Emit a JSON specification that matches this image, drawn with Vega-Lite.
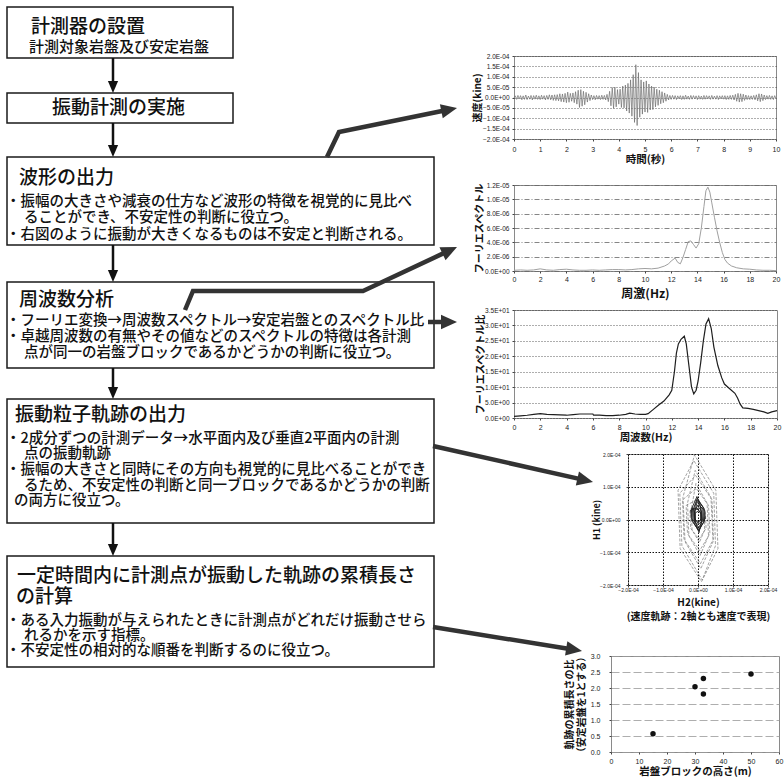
{
"$schema":"https://vega.github.io/schema/vega-lite/v6.json",
"background":"white",
"padding":0,
"bounds":"flush",
"spacing":0,
"config":{
"view":{"stroke":"#8a8a8a","strokeWidth":1},
"axis":{"domain":false,"labelFont":"Liberation Sans","labelColor":"#222","titleFont":"Noto Sans CJK JP","titleColor":"#111","titleFontWeight":"bold","tickColor":"#444","tickSize":2,"labelOverlap":false,"labelFlush":false,"gridWidth":0.8}
},
"datasets":{
"boxes":[{"x":7,"x2":233,"y":7,"y2":58},{"x":7,"x2":233,"y":93,"y2":123},{"x":7,"x2":434,"y":157,"y2":245},{"x":7,"x2":434,"y":282,"y2":368},{"x":7,"x2":434,"y":399,"y2":523},{"x":7,"x2":434,"y":556,"y2":667}],
"titles":[{"x":31,"y":27,"t":"計測器の設置"},{"x":52,"y":108,"t":"振動計測の実施"},{"x":19,"y":178,"t":"波形の出力"},{"x":19,"y":300,"t":"周波数分析"},{"x":15,"y":415,"t":"振動粒子軌跡の出力"},{"x":17,"y":576,"t":"一定時間内に計測点が振動した軌跡の累積長さ"},{"x":16,"y":597,"t":"の計算"}],
"subs":[{"x":29,"y":47,"t":"計測対象岩盤及び安定岩盤"}],
"body":[
{"x":6,"y":201.5,"t":"・振幅の大きさや減衰の仕方など波形の特徴を視覚的に見比べ"},
{"x":24,"y":218,"t":"ることができ、不安定性の判断に役立つ。"},
{"x":6,"y":235,"t":"・右図のように振動が大きくなるものは不安定と判断される。"},
{"x":6,"y":321,"t":"・フーリエ変換→周波数スペクトル→安定岩盤とのスペクトル比"},
{"x":6,"y":336.5,"t":"・卓越周波数の有無やその値などのスペクトルの特徴は各計測"},
{"x":24,"y":353,"t":"点が同一の岩盤ブロックであるかどうかの判断に役立つ。"},
{"x":6,"y":438.5,"t":"・2成分ずつの計測データ→水平面内及び垂直2平面内の計測"},
{"x":24,"y":454,"t":"点の振動軌跡"},
{"x":6,"y":470,"t":"・振幅の大きさと同時にその方向も視覚的に見比べることができ"},
{"x":24,"y":486,"t":"るため、不安定性の判断と同一ブロックであるかどうかの判断"},
{"x":14,"y":501,"t":"の両方に役立つ。"},
{"x":6,"y":621,"t":"・ある入力振動が与えられたときに計測点がどれだけ振動させら"},
{"x":24,"y":636,"t":"れるかを示す指標。"},
{"x":6,"y":651,"t":"・不安定性の相対的な順番を判断するのに役立つ。"}],
"shafts":[{"x":113,"y":58,"y2":85},{"x":113,"y":123,"y2":149},{"x":113,"y":245,"y2":274},{"x":113,"y":368,"y2":391},{"x":113,"y":523,"y2":548}],
"vtips":[{"x":113,"y":93},{"x":113,"y":157},{"x":113,"y":282},{"x":113,"y":399},{"x":113,"y":556}],
"links":[
{"id":1,"i":0,"x":327,"y":157},{"id":1,"i":1,"x":339,"y":132},{"id":1,"i":2,"x":443.3,"y":110.8},
{"id":2,"i":0,"x":185,"y":310},{"id":2,"i":1,"x":193,"y":291},{"id":2,"i":2,"x":363,"y":291},{"id":2,"i":3,"x":444.3,"y":252.9},
{"id":3,"i":0,"x":428,"y":322},{"id":3,"i":1,"x":443,"y":322},
{"id":4,"i":0,"x":433,"y":446},{"id":4,"i":1,"x":579.3,"y":478.9},
{"id":5,"i":0,"x":433,"y":627},{"id":5,"i":1,"x":568.2,"y":648.8}],
"tips":[{"x":457,"y":108,"dir":-11.6},{"x":457,"y":247,"dir":-25.1},{"x":457,"y":322,"dir":0},{"x":593,"y":482,"dir":12.7},{"x":582,"y":651,"dir":9.15}],
"wave":[
{"t":0,"v":0},{"t":0.05,"v":0.8e-5},{"t":0.1,"v":-0.9e-5},{"t":0.15,"v":1.0e-5},{"t":0.2,"v":-0.7e-5},{"t":0.25,"v":0.9e-5},{"t":0.3,"v":-1.1e-5},{"t":0.35,"v":0.8e-5},{"t":0.4,"v":-0.9e-5},{"t":0.45,"v":1.2e-5},
{"t":0.5,"v":-1.0e-5},{"t":0.55,"v":0.7e-5},{"t":0.6,"v":-0.8e-5},{"t":0.65,"v":1.0e-5},{"t":0.7,"v":-1.2e-5},{"t":0.75,"v":0.9e-5},{"t":0.8,"v":-0.8e-5},{"t":0.85,"v":1.1e-5},{"t":0.9,"v":-0.9e-5},{"t":0.95,"v":0.8e-5},
{"t":1.0,"v":-1.0e-5},{"t":1.05,"v":1.1e-5},{"t":1.1,"v":-0.8e-5},{"t":1.15,"v":0.9e-5},{"t":1.2,"v":-1.2e-5},{"t":1.25,"v":1.0e-5},{"t":1.3,"v":-0.9e-5},{"t":1.35,"v":1.3e-5},{"t":1.4,"v":-1.1e-5},{"t":1.45,"v":1.2e-5},
{"t":1.5,"v":-1.4e-5},{"t":1.55,"v":1.3e-5},{"t":1.6,"v":-1.5e-5},{"t":1.65,"v":1.4e-5},{"t":1.7,"v":-1.6e-5},{"t":1.75,"v":1.8e-5},{"t":1.8,"v":-2.0e-5},{"t":1.85,"v":1.7e-5},{"t":1.9,"v":-2.2e-5},{"t":1.95,"v":2.0e-5},
{"t":2.0,"v":-2.5e-5},{"t":2.05,"v":2.6e-5},{"t":2.1,"v":-2.3e-5},{"t":2.15,"v":2.0e-5},{"t":2.2,"v":-1.8e-5},{"t":2.25,"v":2.2e-5},{"t":2.3,"v":-2.5e-5},{"t":2.35,"v":2.8e-5},{"t":2.4,"v":-3.2e-5},{"t":2.45,"v":3.5e-5},
{"t":2.5,"v":-4.8e-5},{"t":2.55,"v":3.8e-5},{"t":2.6,"v":-4.2e-5},{"t":2.65,"v":3.0e-5},{"t":2.7,"v":-3.5e-5},{"t":2.75,"v":2.5e-5},{"t":2.8,"v":-2.2e-5},{"t":2.85,"v":1.8e-5},{"t":2.9,"v":-1.5e-5},{"t":2.95,"v":1.2e-5},
{"t":3.0,"v":-1.0e-5},{"t":3.05,"v":0.9e-5},{"t":3.1,"v":-1.1e-5},{"t":3.15,"v":1.0e-5},{"t":3.2,"v":-0.8e-5},{"t":3.25,"v":0.9e-5},{"t":3.3,"v":-1.0e-5},{"t":3.35,"v":1.1e-5},{"t":3.4,"v":-0.9e-5},{"t":3.45,"v":1.0e-5},
{"t":3.5,"v":-1.2e-5},{"t":3.55,"v":1.5e-5},{"t":3.6,"v":-2.0e-5},{"t":3.65,"v":3.0e-5},{"t":3.7,"v":-4.0e-5},{"t":3.75,"v":4.8e-5},{"t":3.8,"v":-5.2e-5},{"t":3.85,"v":5.0e-5},{"t":3.9,"v":-4.5e-5},{"t":3.95,"v":3.8e-5},
{"t":4.0,"v":-3.2e-5},{"t":4.05,"v":4.0e-5},{"t":4.1,"v":-4.8e-5},{"t":4.15,"v":5.5e-5},{"t":4.2,"v":-5.0e-5},{"t":4.25,"v":6.0e-5},{"t":4.3,"v":-6.5e-5},{"t":4.35,"v":6.8e-5},{"t":4.4,"v":-7.5e-5},{"t":4.45,"v":8.5e-5},
{"t":4.5,"v":-9.0e-5},{"t":4.55,"v":11.0e-5},{"t":4.6,"v":-12.0e-5},{"t":4.65,"v":15.8e-5},{"t":4.7,"v":-13.5e-5},{"t":4.75,"v":12.0e-5},{"t":4.8,"v":-9.5e-5},{"t":4.85,"v":8.5e-5},{"t":4.9,"v":-8.0e-5},{"t":4.95,"v":7.5e-5},
{"t":5.0,"v":-7.0e-5},{"t":5.05,"v":8.0e-5},{"t":5.1,"v":-7.2e-5},{"t":5.15,"v":6.5e-5},{"t":5.2,"v":-6.0e-5},{"t":5.25,"v":5.5e-5},{"t":5.3,"v":-5.8e-5},{"t":5.35,"v":5.0e-5},{"t":5.4,"v":-4.5e-5},{"t":5.45,"v":4.0e-5},
{"t":5.5,"v":-3.8e-5},{"t":5.55,"v":3.5e-5},{"t":5.6,"v":-3.0e-5},{"t":5.65,"v":2.8e-5},{"t":5.7,"v":-2.5e-5},{"t":5.75,"v":2.2e-5},{"t":5.8,"v":-1.8e-5},{"t":5.85,"v":1.5e-5},{"t":5.9,"v":-1.2e-5},{"t":5.95,"v":1.0e-5},
{"t":6.0,"v":-0.9e-5},{"t":6.05,"v":1.0e-5},{"t":6.1,"v":-0.8e-5},{"t":6.15,"v":0.9e-5},{"t":6.2,"v":-1.0e-5},{"t":6.25,"v":0.8e-5},{"t":6.3,"v":-0.7e-5},{"t":6.35,"v":0.9e-5},{"t":6.4,"v":-1.0e-5},{"t":6.45,"v":0.8e-5},
{"t":6.5,"v":-0.9e-5},{"t":6.55,"v":1.1e-5},{"t":6.6,"v":-0.8e-5},{"t":6.65,"v":0.7e-5},{"t":6.7,"v":-0.9e-5},{"t":6.75,"v":1.0e-5},{"t":6.8,"v":-0.8e-5},{"t":6.85,"v":0.9e-5},{"t":6.9,"v":-0.7e-5},{"t":6.95,"v":0.8e-5},
{"t":7.0,"v":-1.0e-5},{"t":7.05,"v":0.9e-5},{"t":7.1,"v":-0.8e-5},{"t":7.15,"v":0.7e-5},{"t":7.2,"v":-0.9e-5},{"t":7.25,"v":1.0e-5},{"t":7.3,"v":-0.8e-5},{"t":7.35,"v":0.9e-5},{"t":7.4,"v":-0.7e-5},{"t":7.45,"v":0.8e-5},
{"t":7.5,"v":-0.9e-5},{"t":7.55,"v":1.0e-5},{"t":7.6,"v":-0.8e-5},{"t":7.65,"v":0.7e-5},{"t":7.7,"v":-0.8e-5},{"t":7.75,"v":0.9e-5},{"t":7.8,"v":-1.0e-5},{"t":7.85,"v":0.8e-5},{"t":7.9,"v":-0.7e-5},{"t":7.95,"v":0.9e-5},
{"t":8.0,"v":-0.8e-5},{"t":8.05,"v":0.9e-5},{"t":8.1,"v":-1.0e-5},{"t":8.15,"v":0.8e-5},{"t":8.2,"v":-0.9e-5},{"t":8.25,"v":1.0e-5},{"t":8.3,"v":-0.9e-5},{"t":8.35,"v":1.1e-5},{"t":8.4,"v":-1.2e-5},{"t":8.45,"v":1.5e-5},
{"t":8.5,"v":-1.8e-5},{"t":8.55,"v":2.0e-5},{"t":8.6,"v":-2.2e-5},{"t":8.65,"v":1.8e-5},{"t":8.7,"v":-2.0e-5},{"t":8.75,"v":1.6e-5},{"t":8.8,"v":-1.4e-5},{"t":8.85,"v":1.2e-5},{"t":8.9,"v":-1.0e-5},{"t":8.95,"v":0.9e-5},
{"t":9.0,"v":-1.0e-5},{"t":9.05,"v":0.8e-5},{"t":9.1,"v":-0.9e-5},{"t":9.15,"v":1.0e-5},{"t":9.2,"v":-1.1e-5},{"t":9.25,"v":1.3e-5},{"t":9.3,"v":-1.6e-5},{"t":9.35,"v":1.8e-5},{"t":9.4,"v":-2.0e-5},{"t":9.45,"v":1.7e-5},
{"t":9.5,"v":-1.5e-5},{"t":9.55,"v":1.2e-5},{"t":9.6,"v":-1.0e-5},{"t":9.65,"v":0.9e-5},{"t":9.7,"v":-0.8e-5},{"t":9.75,"v":1.0e-5},{"t":9.8,"v":-0.9e-5},{"t":9.85,"v":0.8e-5},{"t":9.9,"v":-1.0e-5},{"t":9.95,"v":0.9e-5},
{"t":10.0,"v":-0.6e-5}],
"spec":[
{"f":0,"a":0.1e-6},{"f":0.5,"a":0.15e-6},{"f":1,"a":0.1e-6},{"f":1.5,"a":0.15e-6},{"f":2,"a":0.3e-6},{"f":2.5,"a":0.15e-6},{"f":3,"a":0.1e-6},{"f":3.5,"a":0.2e-6},{"f":4,"a":0.25e-6},{"f":4.5,"a":0.15e-6},
{"f":5,"a":0.1e-6},{"f":5.5,"a":0.1e-6},{"f":6,"a":0.15e-6},{"f":6.5,"a":0.1e-6},{"f":7,"a":0.15e-6},{"f":7.5,"a":0.2e-6},{"f":8,"a":0.2e-6},{"f":8.5,"a":0.15e-6},{"f":9,"a":0.2e-6},{"f":9.5,"a":0.3e-6},
{"f":10,"a":0.35e-6},{"f":10.5,"a":0.3e-6},{"f":11,"a":0.4e-6},{"f":11.5,"a":0.7e-6},{"f":11.8,"a":1.0e-6},{"f":12.0,"a":1.4e-6},{"f":12.3,"a":1.8e-6},{"f":12.5,"a":1.2e-6},{"f":12.7,"a":1.0e-6},{"f":12.9,"a":1.9e-6},
{"f":13.1,"a":3.0e-6},{"f":13.3,"a":4.1e-6},{"f":13.5,"a":4.2e-6},{"f":13.7,"a":3.7e-6},{"f":13.9,"a":3.2e-6},{"f":14.1,"a":3.8e-6},{"f":14.3,"a":6.0e-6},{"f":14.5,"a":9.0e-6},{"f":14.65,"a":11.2e-6},{"f":14.8,"a":11.7e-6},
{"f":14.95,"a":11.0e-6},{"f":15.1,"a":9.5e-6},{"f":15.3,"a":7.5e-6},{"f":15.5,"a":5.6e-6},{"f":15.7,"a":4.0e-6},{"f":15.9,"a":2.6e-6},{"f":16.1,"a":1.6e-6},{"f":16.3,"a":1.1e-6},{"f":16.6,"a":0.7e-6},{"f":17.0,"a":0.45e-6},
{"f":17.5,"a":0.3e-6},{"f":18,"a":0.25e-6},{"f":18.5,"a":0.15e-6},{"f":19,"a":0.1e-6},{"f":19.5,"a":0.1e-6},{"f":20,"a":0.05e-6}],
"ratio":[
{"f":0,"r":0.5},{"f":0.5,"r":0.7},{"f":1,"r":0.9},{"f":1.5,"r":1.2},{"f":2,"r":1.4},{"f":2.5,"r":1.2},{"f":3,"r":1.1},{"f":3.5,"r":1.0},{"f":4,"r":0.9},{"f":4.5,"r":1.1},
{"f":5,"r":1.3},{"f":5.5,"r":1.3},{"f":6,"r":1.3},{"f":6.05,"r":0.9},{"f":6.5,"r":0.9},{"f":7,"r":0.8},{"f":7.5,"r":0.8},{"f":8,"r":0.9},{"f":8.5,"r":1.2},{"f":8.8,"r":1.6},
{"f":9.2,"r":1.3},{"f":9.6,"r":1.2},{"f":10,"r":1.2},{"f":10.2,"r":1.4},{"f":10.6,"r":2.8},{"f":11,"r":4.2},{"f":11.4,"r":5.5},{"f":11.8,"r":7.5},{"f":12.0,"r":9},{"f":12.2,"r":15},
{"f":12.35,"r":21},{"f":12.5,"r":24},{"f":12.7,"r":25.5},{"f":12.95,"r":26.5},{"f":13.1,"r":24},{"f":13.3,"r":17},{"f":13.5,"r":10},{"f":13.67,"r":7.8},{"f":13.85,"r":9},{"f":14.0,"r":12},
{"f":14.2,"r":18},{"f":14.4,"r":25},{"f":14.6,"r":30.5},{"f":14.8,"r":32.2},{"f":15.0,"r":29},{"f":15.2,"r":23},{"f":15.5,"r":17},{"f":15.8,"r":13},{"f":16.0,"r":11},{"f":16.4,"r":9.5},
{"f":16.8,"r":8},{"f":17.0,"r":6.5},{"f":17.2,"r":4.5},{"f":17.4,"r":3.3},{"f":17.8,"r":3.1},{"f":18.2,"r":2.8},{"f":18.6,"r":2.4},{"f":19.0,"r":2.0},{"f":19.3,"r":1.5},{"f":19.6,"r":2.0},{"f":20,"r":2.4}],
"orbitOuter":[
{"i":0,"h2":-0.04e-4,"h1":0.7e-4},{"i":1,"h2":0.17e-4,"h1":0.32e-4},{"i":2,"h2":0.19e-4,"h1":-0.32e-4},{"i":3,"h2":0.04e-4,"h1":-0.7e-4},{"i":4,"h2":-0.17e-4,"h1":-0.32e-4},{"i":5,"h2":-0.19e-4,"h1":0.32e-4},
{"i":6,"h2":-0.06e-4,"h1":1.1e-4},{"i":7,"h2":0.26e-4,"h1":0.5e-4},{"i":8,"h2":0.30e-4,"h1":-0.5e-4},{"i":9,"h2":0.06e-4,"h1":-1.1e-4},{"i":10,"h2":-0.26e-4,"h1":-0.5e-4},{"i":11,"h2":-0.30e-4,"h1":0.5e-4},
{"i":12,"h2":-0.08e-4,"h1":1.5e-4},{"i":13,"h2":0.37e-4,"h1":0.68e-4},{"i":14,"h2":0.43e-4,"h1":-0.68e-4},{"i":15,"h2":0.08e-4,"h1":-1.5e-4},{"i":16,"h2":-0.37e-4,"h1":-0.68e-4},{"i":17,"h2":-0.43e-4,"h1":0.68e-4},
{"i":18,"h2":-0.10e-4,"h1":1.97e-4},{"i":19,"h2":0.51e-4,"h1":0.89e-4},{"i":20,"h2":0.57e-4,"h1":-0.89e-4},{"i":21,"h2":0.10e-4,"h1":-1.9e-4},{"i":22,"h2":-0.51e-4,"h1":-0.89e-4},{"i":23,"h2":-0.57e-4,"h1":0.89e-4},
{"i":24,"h2":-0.12e-4,"h1":1.8e-4},{"i":25,"h2":0.45e-4,"h1":0.8e-4},{"i":26,"h2":0.50e-4,"h1":-0.8e-4},{"i":27,"h2":0.12e-4,"h1":-1.85e-4},{"i":28,"h2":-0.46e-4,"h1":-0.8e-4},{"i":29,"h2":-0.52e-4,"h1":0.8e-4},
{"i":30,"h2":-0.07e-4,"h1":1.35e-4},{"i":31,"h2":0.40e-4,"h1":0.6e-4},{"i":32,"h2":0.44e-4,"h1":-0.6e-4},{"i":33,"h2":0.07e-4,"h1":-1.35e-4},{"i":34,"h2":-0.40e-4,"h1":-0.6e-4},{"i":35,"h2":-0.44e-4,"h1":0.6e-4},
{"i":36,"h2":-0.05e-4,"h1":0.95e-4},{"i":37,"h2":0.30e-4,"h1":0.43e-4},{"i":38,"h2":0.34e-4,"h1":-0.43e-4},{"i":39,"h2":0.05e-4,"h1":-0.95e-4},{"i":40,"h2":-0.30e-4,"h1":-0.43e-4},{"i":41,"h2":-0.34e-4,"h1":0.43e-4},
{"i":42,"h2":-0.03e-4,"h1":0.6e-4},{"i":43,"h2":0.21e-4,"h1":0.27e-4},{"i":44,"h2":0.23e-4,"h1":-0.27e-4},{"i":45,"h2":0.03e-4,"h1":-0.6e-4},{"i":46,"h2":-0.21e-4,"h1":-0.27e-4},{"i":47,"h2":-0.23e-4,"h1":0.27e-4}],
"orbitInner":[
{"i":0,"h2":0.0,"h1":0.4e-4},{"i":1,"h2":0.1e-4,"h1":0.26e-4},{"i":2,"h2":0.1e-4,"h1":0.04e-4},{"i":3,"h2":0.0,"h1":-0.1e-4},{"i":4,"h2":-0.1e-4,"h1":0.04e-4},{"i":5,"h2":-0.1e-4,"h1":0.26e-4},
{"i":6,"h2":0.0,"h1":0.45e-4},{"i":7,"h2":0.19e-4,"h1":0.29e-4},{"i":8,"h2":0.21e-4,"h1":0.02e-4},{"i":9,"h2":0.0,"h1":-0.15e-4},{"i":10,"h2":-0.19e-4,"h1":0.02e-4},{"i":11,"h2":-0.21e-4,"h1":0.29e-4},
{"i":12,"h2":-0.02e-4,"h1":0.35e-4},{"i":13,"h2":0.09e-4,"h1":0.16e-4},{"i":14,"h2":0.11e-4,"h1":-0.16e-4},{"i":15,"h2":0.02e-4,"h1":-0.35e-4},{"i":16,"h2":-0.09e-4,"h1":-0.16e-4},{"i":17,"h2":-0.11e-4,"h1":0.16e-4},
{"i":18,"h2":-0.02e-4,"h1":0.55e-4},{"i":19,"h2":0.11e-4,"h1":0.33e-4},{"i":20,"h2":0.13e-4,"h1":-0.03e-4},{"i":21,"h2":0.02e-4,"h1":-0.25e-4},{"i":22,"h2":-0.11e-4,"h1":-0.03e-4},{"i":23,"h2":-0.13e-4,"h1":0.33e-4},
{"i":24,"h2":-0.02e-4,"h1":0.65e-4},{"i":25,"h2":0.14e-4,"h1":0.38e-4},{"i":26,"h2":0.16e-4,"h1":-0.08e-4},{"i":27,"h2":0.02e-4,"h1":-0.35e-4},{"i":28,"h2":-0.14e-4,"h1":-0.08e-4},{"i":29,"h2":-0.16e-4,"h1":0.38e-4},
{"i":30,"h2":-0.03e-4,"h1":0.7e-4},{"i":31,"h2":0.07e-4,"h1":0.4e-4},{"i":32,"h2":0.09e-4,"h1":-0.1e-4},{"i":33,"h2":0.03e-4,"h1":-0.4e-4},{"i":34,"h2":-0.07e-4,"h1":-0.1e-4},{"i":35,"h2":-0.09e-4,"h1":0.4e-4},
{"i":36,"h2":-0.02e-4,"h1":0.6e-4},{"i":37,"h2":0.17e-4,"h1":0.35e-4},{"i":38,"h2":0.19e-4,"h1":-0.05e-4},{"i":39,"h2":0.02e-4,"h1":-0.3e-4},{"i":40,"h2":-0.17e-4,"h1":-0.05e-4},{"i":41,"h2":-0.19e-4,"h1":0.35e-4},
{"i":42,"h2":0.0,"h1":0.3e-4},{"i":43,"h2":0.08e-4,"h1":0.2e-4},{"i":44,"h2":0.08e-4,"h1":0.0},{"i":45,"h2":0.0,"h1":-0.1e-4},{"i":46,"h2":-0.08e-4,"h1":0.0},{"i":47,"h2":-0.08e-4,"h1":0.2e-4},{"i":48,"h2":0.0,"h1":0.25e-4}],
"blocks":[{"height":15,"ratio":0.57},{"height":30,"ratio":2.04},{"height":33,"ratio":2.3},{"height":33,"ratio":1.81},{"height":50,"ratio":2.44}]
},
"hconcat":[
{
"width":514,"height":780,
"view":{"stroke":null},
"encoding":{
"x":{"field":"x","type":"quantitative","scale":{"domain":[0,514],"nice":false,"zero":false},"axis":null},
"y":{"field":"y","type":"quantitative","scale":{"domain":[0,780],"nice":false,"zero":false,"reverse":true},"axis":null}
},
"layer":[
{"data":{"name":"boxes"},"mark":{"type":"rect","fill":"white","stroke":"#1a1a1a","strokeWidth":1.5},"encoding":{"x2":{"field":"x2"},"y2":{"field":"y2"}}},
{"data":{"name":"titles"},"mark":{"type":"text","align":"left","baseline":"middle","fontSize":19,"font":"Noto Sans CJK JP","fontWeight":500,"color":"#111"},"encoding":{"text":{"field":"t"}}},
{"data":{"name":"subs"},"mark":{"type":"text","align":"left","baseline":"middle","fontSize":15,"font":"Noto Sans CJK JP","fontWeight":500,"color":"#111"},"encoding":{"text":{"field":"t"}}},
{"data":{"name":"body"},"mark":{"type":"text","align":"left","baseline":"middle","fontSize":14.5,"font":"Noto Sans CJK JP","fontWeight":500,"color":"#111"},"encoding":{"text":{"field":"t"}}},
{"data":{"name":"shafts"},"mark":{"type":"rule","color":"#111","strokeWidth":2.5},"encoding":{"y2":{"field":"y2"}}},
{"data":{"name":"vtips"},"mark":{"type":"point","shape":"M0,0L-2,-0.85L-2,0.85Z","size":144,"angle":90,"filled":true,"color":"#111","opacity":1},"encoding":{}},
{"data":{"name":"links"},"mark":{"type":"line","color":"#333","strokeWidth":4.5,"strokeJoin":"miter"},"encoding":{"detail":{"field":"id"},"order":{"field":"i"}}},
{"data":{"name":"tips"},"mark":{"type":"point","shape":"M0,0L-2,-0.9L-2,0.9Z","size":256,"filled":true,"color":"#333","opacity":1},"encoding":{"angle":{"field":"dir","type":"quantitative","scale":null}}}
]
},
{
"spacing":0,
"vconcat":[
{"width":4,"height":52,"data":{"values":[{}]},"mark":{"type":"rect","opacity":0},"view":{"stroke":null}},
{
"width":262,"height":83,
"data":{"name":"wave"},
"mark":{"type":"line","color":"#6e6e6e","strokeWidth":0.7},
"encoding":{
"x":{"field":"t","type":"quantitative","scale":{"domain":[0,10],"nice":false,"zero":false},"axis":{"title":"時間(秒)","values":[0,1,2,3,4,5,6,7,8,9,10],"grid":false,"labelFontSize":7,"labelPadding":4.5,"minExtent":13.5,"maxExtent":13.5,"titleFontSize":10.5,"titlePadding":2}},
"y":{"field":"v","type":"quantitative","scale":{"domain":[-0.0002,0.0002],"nice":false,"zero":false},"axis":{"title":"速度(kine)","values":[-0.0002,-0.00015,-0.0001,-0.00005,0,0.00005,0.0001,0.00015,0.0002],"labelExpr":"replace(replace(format(datum.value,'.1e'),'e-','E-0'),'e+','E+0')","grid":true,"gridColor":"#333","gridDash":[1,2],"labelFontSize":6.5,"labelPadding":3,"minExtent":30,"maxExtent":30,"titleFontSize":10,"titlePadding":2}}
}
},
{"width":4,"height":14.75,"data":{"values":[{}]},"mark":{"type":"rect","opacity":0},"view":{"stroke":null}},
{
"width":262,"height":86,
"data":{"name":"spec"},
"mark":{"type":"line","color":"#a0a0a0","strokeWidth":1},
"encoding":{
"x":{"field":"f","type":"quantitative","scale":{"domain":[0,20],"nice":false,"zero":false},"axis":{"title":"周激(Hz)","values":[0,2,4,6,8,10,12,14,16,18,20],"grid":false,"labelFontSize":7,"labelPadding":2.5,"minExtent":11.5,"maxExtent":11.5,"titleFontSize":12,"titlePadding":5.5}},
"y":{"field":"a","type":"quantitative","scale":{"domain":[0,0.000012],"nice":false,"zero":false},"axis":{"title":"フーリエスペクトル","values":[0,0.000002,0.000004,0.000006,0.000008,0.00001,0.000012],"labelExpr":"replace(replace(format(datum.value,'.1e'),'e-','E-0'),'e+','E+0')","grid":true,"gridColor":"#666","gridDash":[5,2,1,2],"labelFontSize":6.5,"labelPadding":3,"minExtent":28,"maxExtent":28,"titleFontSize":10,"titlePadding":2}}
}
},
{"width":4,"height":5.75,"data":{"values":[{}]},"mark":{"type":"rect","opacity":0},"view":{"stroke":null}},
{
"width":263,"height":108,
"data":{"name":"ratio"},
"mark":{"type":"line","color":"#1e1e1e","strokeWidth":1.2},
"encoding":{
"x":{"field":"f","type":"quantitative","scale":{"domain":[0,20],"nice":false,"zero":false},"axis":{"title":"周波数(Hz)","values":[0,2,4,6,8,10,12,14,16,18,20],"grid":false,"labelFontSize":7,"labelPadding":3.5,"minExtent":12.5,"maxExtent":12.5,"titleFontSize":10.5,"titlePadding":2}},
"y":{"field":"r","type":"quantitative","scale":{"domain":[0,35],"nice":false,"zero":false},"axis":{"title":"フーリエスペクトル比","values":[0,5,10,15,20,25,30,35],"labelExpr":"replace(replace(format(datum.value,'.1e'),'e-','E-0'),'e+','E+0')","grid":true,"gridColor":"#333","gridDash":[1,2],"labelFontSize":6.5,"labelPadding":3,"minExtent":27,"maxExtent":27,"titleFontSize":10,"titlePadding":2}}
}
},
{"width":4,"height":7,"data":{"values":[{}]},"mark":{"type":"rect","opacity":0},"view":{"stroke":null}},
{
"spacing":0,
"hconcat":[
{"width":77,"height":1,"data":{"values":[{}]},"mark":{"type":"rect","opacity":0},"view":{"stroke":null}},
{
"width":140,"height":131,
"encoding":{
"x":{"field":"h2","type":"quantitative","scale":{"domain":[-0.0002,0.0002],"nice":false,"zero":false},"axis":{"title":["H2(kine)","(速度軌跡：2軸とも速度で表現)"],"values":[-0.0002,-0.0001,0,0.0001,0.0002],"labelExpr":"replace(replace(format(datum.value,'.1e'),'e-','E-0'),'e+','E+0')","grid":true,"gridColor":"#111","gridDash":[1.5,1.5],"gridWidth":1,"labelFontSize":5,"labelPadding":0.5,"minExtent":7.5,"maxExtent":7.5,"titleFontSize":10,"titleLineHeight":14,"titlePadding":5}},
"y":{"field":"h1","type":"quantitative","scale":{"domain":[-0.0002,0.0002],"nice":false,"zero":false},"axis":{"title":"H1 (kine)","values":[-0.0002,-0.0001,0,0.0001,0.0002],"labelExpr":"replace(replace(format(datum.value,'.1e'),'e-','E-0'),'e+','E+0')","grid":true,"gridColor":"#111","gridDash":[1.5,1.5],"gridWidth":1,"labelFontSize":5,"labelPadding":6,"minExtent":27,"maxExtent":27,"titleFontSize":9,"titlePadding":0}},
"order":{"field":"i"}
},
"layer":[
{"data":{"name":"orbitOuter"},"mark":{"type":"line","color":"#7a7a7a","strokeWidth":0.7,"strokeDash":[3,1.5]}},
{"data":{"name":"orbitInner"},"mark":{"type":"line","color":"#222","strokeWidth":0.9}}
]
}
]
},
{"width":4,"height":28,"data":{"values":[{}]},"mark":{"type":"rect","opacity":0},"view":{"stroke":null}},
{
"spacing":0,
"hconcat":[
{"width":49,"height":1,"data":{"values":[{}]},"mark":{"type":"rect","opacity":0},"view":{"stroke":null}},
{
"width":168,"height":96,
"data":{"name":"blocks"},
"mark":{"type":"circle","size":30,"color":"#111","opacity":1},
"encoding":{
"x":{"field":"height","type":"quantitative","scale":{"domain":[0,60],"nice":false,"zero":false},"axis":{"title":"岩盤ブロックの高さ(m)","values":[0,10,20,30,40,50,60],"grid":false,"labelFontSize":7,"labelPadding":3,"minExtent":12,"maxExtent":12,"titleFontSize":10.5,"titlePadding":2}},
"y":{"field":"ratio","type":"quantitative","scale":{"domain":[0,3],"nice":false,"zero":false},"axis":{"title":["軌跡の累積長さの比","（安定岩盤を1とする）"],"values":[0,0.5,1,1.5,2,2.5,3],"format":".1f","grid":true,"gridColor":"#999","gridDash":[8,3],"labelFontSize":7,"labelPadding":9,"minExtent":20,"maxExtent":20,"titleFontSize":10,"titleLineHeight":12,"titlePadding":5}}
}
}
]
}
]
}
]
}
